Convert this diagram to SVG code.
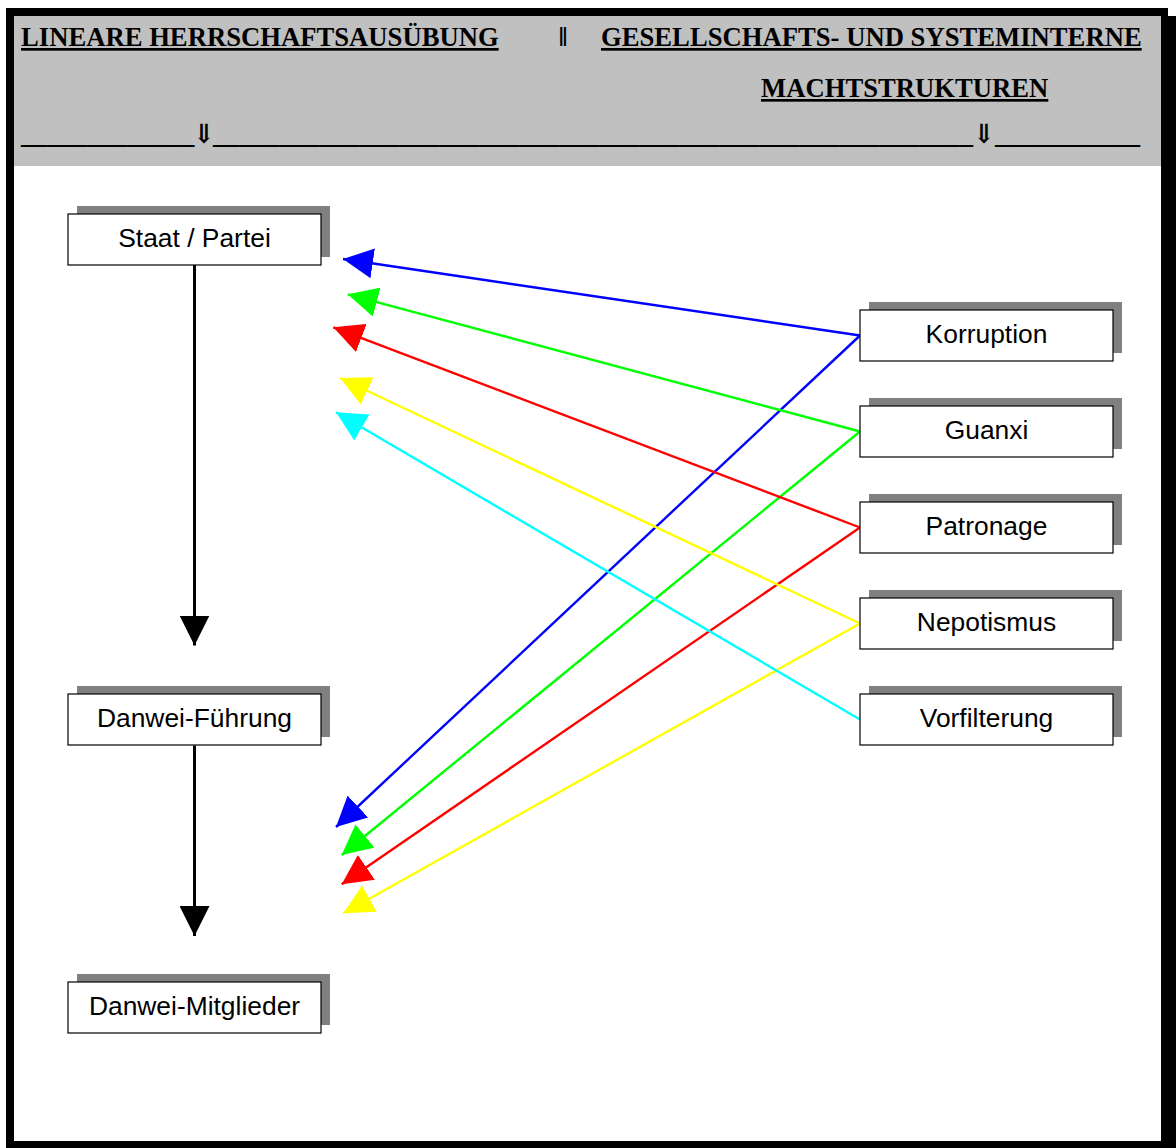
<svg xmlns="http://www.w3.org/2000/svg" width="1176" height="1148" viewBox="0 0 1176 1148">
<defs>
<style>
.hdr{font-family:"Liberation Serif","Times New Roman","DejaVu Serif",serif;font-weight:bold;font-size:26.67px;fill:#000}
.u{text-decoration:underline}
.shadow{fill:#808080}
.box{fill:#fff;stroke:#000;stroke-width:1.2}
.lbl{font-family:"Liberation Sans",Arial,sans-serif;font-size:26.4px;fill:#000;text-anchor:middle}
.conn line{fill:none}
</style>
<marker id="mk" markerUnits="userSpaceOnUse" viewBox="0 0 30 30" markerWidth="30" markerHeight="30" refX="30" refY="15" orient="auto"><path d="M0,0 L30,15 L0,30 z" fill="#000"/></marker>
<marker id="mb" markerUnits="userSpaceOnUse" viewBox="0 0 30 30" markerWidth="30" markerHeight="30" refX="30" refY="15" orient="auto"><path d="M0,0 L30,15 L0,30 z" fill="#0000FF"/></marker>
<marker id="mg" markerUnits="userSpaceOnUse" viewBox="0 0 30 30" markerWidth="30" markerHeight="30" refX="30" refY="15" orient="auto"><path d="M0,0 L30,15 L0,30 z" fill="#00FF00"/></marker>
<marker id="mr" markerUnits="userSpaceOnUse" viewBox="0 0 30 30" markerWidth="30" markerHeight="30" refX="30" refY="15" orient="auto"><path d="M0,0 L30,15 L0,30 z" fill="#FF0000"/></marker>
<marker id="my" markerUnits="userSpaceOnUse" viewBox="0 0 30 30" markerWidth="30" markerHeight="30" refX="30" refY="15" orient="auto"><path d="M0,0 L30,15 L0,30 z" fill="#FFFF00"/></marker>
<marker id="mc" markerUnits="userSpaceOnUse" viewBox="0 0 30 30" markerWidth="30" markerHeight="30" refX="30" refY="15" orient="auto"><path d="M0,0 L30,15 L0,30 z" fill="#00FFFF"/></marker>
</defs>
<rect width="1176" height="1148" fill="#fff"/>
<rect x="14" y="16" width="1162" height="1140" fill="#000"/>
<rect x="6" y="8" width="1162" height="1140" fill="#000"/>
<rect x="14" y="16" width="1147" height="1125" fill="#fff"/>
<rect x="14" y="16" width="1147" height="150" fill="#C0C0C0"/>
<g id="header">
<text class="hdr u" x="21" y="46">LINEARE HERRSCHAFTSAUSÜBUNG</text>
<text class="hdr" x="563" y="46" text-anchor="middle">‖</text>
<text class="hdr u" x="601" y="46">GESELLSCHAFTS- UND SYSTEMINTERNE</text>
<text class="hdr u" x="761" y="97">MACHTSTRUKTUREN</text>
<text class="hdr" x="21" y="143">_____________</text>
<text class="hdr" x="204" y="143" text-anchor="middle">⇓</text>
<text class="hdr" x="213" y="143" textLength="760" lengthAdjust="spacing">_________________________________________________________</text>
<text class="hdr" x="984" y="143" text-anchor="middle">⇓</text>
<text class="hdr" x="995" y="143" textLength="145" lengthAdjust="spacing">___________</text>
</g>
<g id="connectors" class="conn">
<line x1="194.5" y1="265" x2="194.5" y2="645.5" stroke="#000" stroke-width="3" marker-end="url(#mk)"/>
<line x1="194.5" y1="745.5" x2="194.5" y2="936" stroke="#000" stroke-width="3" marker-end="url(#mk)"/>
<line x1="860" y1="335.5" x2="343" y2="259" stroke="#0000FF" stroke-width="2.4" marker-end="url(#mb)"/>
<line x1="860" y1="335.5" x2="336" y2="827" stroke="#0000FF" stroke-width="2.4" marker-end="url(#mb)"/>
<line x1="860" y1="431.5" x2="347.7" y2="294.3" stroke="#00FF00" stroke-width="2.4" marker-end="url(#mg)"/>
<line x1="860" y1="431.5" x2="341.7" y2="855" stroke="#00FF00" stroke-width="2.4" marker-end="url(#mg)"/>
<line x1="860" y1="527.5" x2="333.3" y2="327.3" stroke="#FF0000" stroke-width="2.4" marker-end="url(#mr)"/>
<line x1="860" y1="527.5" x2="341.7" y2="884.3" stroke="#FF0000" stroke-width="2.4" marker-end="url(#mr)"/>
<line x1="860" y1="623.5" x2="340" y2="378" stroke="#FFFF00" stroke-width="2.4" marker-end="url(#my)"/>
<line x1="860" y1="623.5" x2="343.3" y2="913.3" stroke="#FFFF00" stroke-width="2.4" marker-end="url(#my)"/>
<line x1="860" y1="719.5" x2="336" y2="412.3" stroke="#00FFFF" stroke-width="2.4" marker-end="url(#mc)"/>
</g>
<g id="staat"><rect class="shadow" x="77" y="206" width="253" height="51"/><rect class="box" x="68" y="214" width="253" height="51"/><text class="lbl" x="194.5" y="246.5">Staat / Partei</text></g>
<g id="fuehrung"><rect class="shadow" x="77" y="686" width="253" height="51"/><rect class="box" x="68" y="694" width="253" height="51"/><text class="lbl" x="194.5" y="726.5">Danwei-Führung</text></g>
<g id="mitglieder"><rect class="shadow" x="77" y="974" width="253" height="51"/><rect class="box" x="68" y="982" width="253" height="51"/><text class="lbl" x="194.5" y="1014.5">Danwei-Mitglieder</text></g>
<g id="korruption"><rect class="shadow" x="869" y="302" width="253" height="51"/><rect class="box" x="860" y="310" width="253" height="51"/><text class="lbl" x="986.5" y="342.5">Korruption</text></g>
<g id="guanxi"><rect class="shadow" x="869" y="398" width="253" height="51"/><rect class="box" x="860" y="406" width="253" height="51"/><text class="lbl" x="986.5" y="438.5">Guanxi</text></g>
<g id="patronage"><rect class="shadow" x="869" y="494" width="253" height="51"/><rect class="box" x="860" y="502" width="253" height="51"/><text class="lbl" x="986.5" y="534.5">Patronage</text></g>
<g id="nepotismus"><rect class="shadow" x="869" y="590" width="253" height="51"/><rect class="box" x="860" y="598" width="253" height="51"/><text class="lbl" x="986.5" y="630.5">Nepotismus</text></g>
<g id="vorfilterung"><rect class="shadow" x="869" y="686" width="253" height="51"/><rect class="box" x="860" y="694" width="253" height="51"/><text class="lbl" x="986.5" y="726.5">Vorfilterung</text></g>
</svg>
